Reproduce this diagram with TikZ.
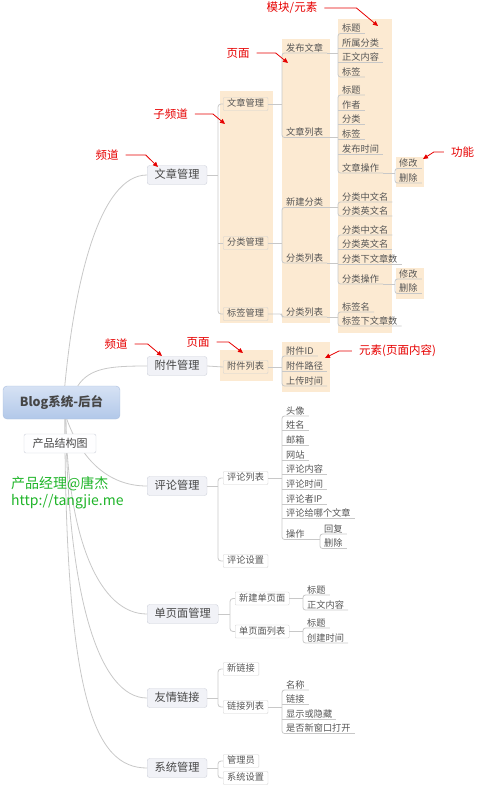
\documentclass[tikz,border=0pt]{standalone}
\usepackage{fontspec}
\setmainfont{Noto Sans CJK SC}
\usetikzlibrary{arrows.meta}
\definecolor{peach}{RGB}{252,234,210}
\definecolor{linegray}{RGB}{200,200,200}
\definecolor{chanfill}{RGB}{241,242,247}
\definecolor{chanline}{RGB}{205,208,218}
\definecolor{rootTop}{RGB}{214,226,244}
\definecolor{rootBot}{RGB}{178,200,233}
\definecolor{rootline}{RGB}{170,190,222}
\definecolor{txtgray}{RGB}{70,70,70}
\definecolor{itemgray}{RGB}{85,85,85}
\definecolor{markred}{RGB}{230,0,0}
\definecolor{signgreen}{RGB}{30,180,40}

\begin{document}
\begin{tikzpicture}[x=1pt,y=-1pt,
  rootbox/.style={draw=rootline,rounded corners=4pt,top color=rootTop,
                  bottom color=rootBot,minimum width=117pt,minimum height=33pt,
                  font=\fontsize{12.5}{14}\selectfont\bfseries,text=txtgray},
  tagbox/.style={draw=chanline,fill=white!96!chanfill,rounded corners=2pt,
                 minimum width=72pt,minimum height=19pt,
                 font=\fontsize{11}{13}\selectfont,text=txtgray},
  chan/.style={anchor=west,draw=chanline,fill=chanfill,rounded corners=2.5pt,
               inner xsep=7.5pt,inner ysep=4pt,text height=9pt,text depth=2pt,
               font=\fontsize{11.2}{13}\selectfont,text=txtgray},
  subch/.style={anchor=west,draw=black!18,rounded corners=1pt,
                inner xsep=4pt,inner ysep=2pt,text height=7.4pt,text depth=1.6pt,
                font=\fontsize{9.2}{11}\selectfont,text=itemgray},
  item/.style={anchor=south west,inner xsep=4pt,inner ysep=0.4pt,
               text height=7.4pt,text depth=1.2pt,
               font=\fontsize{9.2}{11}\selectfont,text=itemgray},
  conn/.style={draw=linegray,line width=0.8pt},
  redlbl/.style={inner xsep=7pt,inner ysep=1pt,text=markred,
                 font=\fontsize{11.5}{13}\selectfont},
  redarr/.style={draw=markred,line width=0.8pt,
                 -{Triangle[length=5pt,width=4.5pt]}}
]
\useasboundingbox (0,0) rectangle (485,793);

% peach backgrounds
\fill[peach] (220,91) rectangle (273,323);
\fill[peach] (282,39) rectangle (330,323);
\fill[peach] (338,19) rectangle (392,333);
\fill[peach] (396,157) rectangle (424,187);
\fill[peach] (396,268) rectangle (424,299);
\fill[peach] (220,350) rectangle (273,381);
\fill[peach] (282,342) rectangle (330,392);

% root and channels
\node[rootbox] (root) at (61.5,402.5) {Blog系统-后台};
\node[chan] (art) at (147,175) {文章管理};
\node[chan] (att) at (147,366) {附件管理};
\node[chan] (cmt) at (147,486) {评论管理};
\node[chan] (pg) at (147,614) {单页面管理};
\node[chan] (lnk) at (147,698) {友情链接};
\node[chan] (sys) at (147,768) {系统管理};

\draw[conn] ([xshift=62pt]root.north west) .. controls +(10,-106) and +(-47,0) .. (art.west);
\draw[conn] ([xshift=75pt]root.north west) .. controls +(12,-18) and +(-37,0) .. (att.west);
\draw[conn] ([xshift=64pt]root.south west) .. controls +(13,36) and +(-42,0) .. (cmt.west);
\draw[conn] ([xshift=63pt]root.south west) .. controls +(2,121) and +(-47,0) .. (pg.west);
\draw[conn] ([xshift=63pt]root.south west) .. controls +(2,181) and +(-47,0) .. (lnk.west);
\draw[conn] ([xshift=62pt]root.south west) .. controls +(1,281) and +(-52,0) .. (sys.west);

\node[tagbox] (struct) at (60,443.5) {产品结构图};
\node[anchor=west,align=left,inner sep=0pt,text=signgreen,
      font=\fontsize{14}{16.5}\selectfont] (sign) at (11,493)
  {产品经理@唐杰\\http://tangjie.me};

% 文章管理
\node[subch] (artm) at (223,104) {文章管理};
\node[subch] (catm) at (223,243) {分类管理};
\node[subch] (tagm) at (223,314) {标签管理};
\draw[conn] (art.east) -- ([xshift=-5pt]artm.west |- art.east);
\draw[conn,rounded corners=3pt] (artm.west) -- ++(-5,0) |- (tagm.west);
\draw[conn] (catm.west) -- ++(-5,0);

\node[item] (pub) at (282,53) {发布文章};
\node[item] (alist) at (282,137.5) {文章列表};
\node[item] (cnew) at (282,207.5) {新建分类};
\node[item] (clist) at (282,263) {分类列表};
\node[item] (tlist) at (282,317) {分类列表};
\draw[conn] (artm.east) -- (artm.east -| pub.south west);
\draw[conn,rounded corners=2.5pt] (pub.south east) -- (pub.south west) -- (alist.south west) -- (alist.south east);
\draw[conn] (catm.east) -- (catm.east -| cnew.south west);
\draw[conn,rounded corners=2.5pt] (cnew.south east) -- (cnew.south west) -- (clist.south west) -- (clist.south east);
\draw[conn,rounded corners=2pt] (tagm.east) -- (tagm.east -| tlist.south west) -- (tlist.south west) -- (tlist.south east);

\node[item] (pub1) at (338,33.5) {标题};
\node[item] (pub2) at (338,48) {所属分类};
\node[item] (pub3) at (338,62.5) {正文内容};
\node[item] (pub4) at (338,77) {标签};
\draw[conn] (pub.south east) -- (pub.south east -| pub1.south west);
\draw[conn,rounded corners=2.5pt] (pub1.south east) -- (pub1.south west) -- (pub4.south west) -- (pub4.south east);
\foreach \n in {pub2,pub3} \draw[conn] (\n.south west) -- (\n.south east);

\node[item] (al1) at (338,95) {标题};
\node[item] (al2) at (338,110) {作者};
\node[item] (al3) at (338,124.5) {分类};
\node[item] (al4) at (338,139) {标签};
\node[item] (al5) at (338,154) {发布时间};
\node[item] (al6) at (338,173) {文章操作};
\draw[conn] (alist.south east) -- (alist.south east -| al1.south west);
\draw[conn,rounded corners=2.5pt] (al1.south east) -- (al1.south west) -- (al6.south west) -- (al6.south east);
\foreach \n in {al2,al3,al4,al5} \draw[conn] (\n.south west) -- (\n.south east);

\node[item] (alop1) at (395,168.5) {修改};
\node[item] (alop2) at (395,183) {删除};
\draw[conn] (al6.south east) -- (al6.south east -| alop1.south west);
\draw[conn,rounded corners=2.5pt] (alop1.south east) -- (alop1.south west) -- (alop2.south west) -- (alop2.south east);

\node[item] (cn1) at (338,202) {分类中文名};
\node[item] (cn2) at (338,216) {分类英文名};
\draw[conn] (cnew.south east) -- (cnew.south east -| cn1.south west);
\draw[conn,rounded corners=2.5pt] (cn1.south east) -- (cn1.south west) -- (cn2.south west) -- (cn2.south east);

\node[item] (cl1) at (338,235) {分类中文名};
\node[item] (cl2) at (338,249.5) {分类英文名};
\node[item] (cl3) at (338,264) {分类下文章数};
\node[item] (cl4) at (338,284) {分类操作};
\draw[conn] (clist.south east) -- (clist.south east -| cl1.south west);
\draw[conn,rounded corners=2.5pt] (cl1.south east) -- (cl1.south west) -- (cl4.south west) -- (cl4.south east);
\foreach \n in {cl2,cl3} \draw[conn] (\n.south west) -- (\n.south east);

\node[item] (clop1) at (395,279) {修改};
\node[item] (clop2) at (395,293.5) {删除};
\draw[conn] (cl4.south east) -- (cl4.south east -| clop1.south west);
\draw[conn,rounded corners=2.5pt] (clop1.south east) -- (clop1.south west) -- (clop2.south west) -- (clop2.south east);

\node[item] (tl1) at (338,312) {标签名};
\node[item] (tl2) at (338,326) {标签下文章数};
\draw[conn] (tlist.south east) -- (tlist.south east -| tl1.south west);
\draw[conn,rounded corners=2.5pt] (tl1.south east) -- (tl1.south west) -- (tl2.south west) -- (tl2.south east);

% 附件管理
\node[subch] (attl) at (223,367) {附件列表};
\draw[conn] (att.east) -- (attl.west);
\node[item] (at1) at (282,356) {附件ID};
\node[item] (at2) at (282,371) {附件路径};
\node[item] (at3) at (282,386) {上传时间};
\draw[conn] (attl.east) -- (attl.east -| at1.south west);
\draw[conn,rounded corners=2.5pt] (at1.south east) -- (at1.south west) -- (at3.south west) -- (at3.south east);
\draw[conn] (at2.south west) -- (at2.south east);

% 评论管理
\node[subch] (cmtl) at (223,478) {评论列表};
\node[subch] (cmts) at (223,561) {评论设置};
\draw[conn] (cmt.east) -- ([xshift=-5pt]cmtl.west |- cmt.east);
\draw[conn,rounded corners=3pt] (cmtl.west) -- ++(-5,0) |- (cmts.west);

\node[item] (cm1) at (282,416) {头像};
\node[item] (cm2) at (282,430.5) {姓名};
\node[item] (cm3) at (282,445.5) {邮箱};
\node[item] (cm4) at (282,460) {网站};
\node[item] (cm5) at (282,474.5) {评论内容};
\node[item] (cm6) at (282,489.5) {评论时间};
\node[item] (cm7) at (282,504) {评论者IP};
\node[item] (cm8) at (282,518.5) {评论给哪个文章};
\node[item] (cm9) at (282,539.5) {操作};
\draw[conn] (cmtl.east) -- (cmtl.east -| cm1.south west);
\draw[conn,rounded corners=2.5pt] (cm1.south east) -- (cm1.south west) -- (cm9.south west) -- (cm9.south east);
\foreach \n in {cm2,cm3,cm4,cm5,cm6,cm7,cm8} \draw[conn] (\n.south west) -- (\n.south east);

\node[item] (cmop1) at (320,534) {回复};
\node[item] (cmop2) at (320,548.5) {删除};
\draw[conn] (cm9.south east) -- (cm9.south east -| cmop1.south west);
\draw[conn,rounded corners=2.5pt] (cmop1.south east) -- (cmop1.south west) -- (cmop2.south west) -- (cmop2.south east);

% 单页面管理
\node[subch] (pgnew) at (235,598.5) {新建单页面};
\node[subch] (pglist) at (235,631.5) {单页面列表};
\draw[conn] (pg.east) -- ([xshift=-5pt]pgnew.west |- pg.east);
\draw[conn,rounded corners=3pt] (pgnew.west) -- ++(-5,0) |- (pglist.west);

\node[item] (pn1) at (303,595) {标题};
\node[item] (pn2) at (303,610) {正文内容};
\node[item] (pl1) at (303,628) {标题};
\node[item] (pl2) at (303,643) {创建时间};
\draw[conn] (pgnew.east) -- (pgnew.east -| pn1.south west);
\draw[conn,rounded corners=2.5pt] (pn1.south east) -- (pn1.south west) -- (pn2.south west) -- (pn2.south east);
\draw[conn] (pglist.east) -- (pglist.east -| pl1.south west);
\draw[conn,rounded corners=2.5pt] (pl1.south east) -- (pl1.south west) -- (pl2.south west) -- (pl2.south east);

% 友情链接
\node[subch] (lnknew) at (223,669) {新链接};
\node[subch] (lnkl) at (223,707) {链接列表};
\draw[conn] (lnk.east) -- ([xshift=-5pt]lnknew.west |- lnk.east);
\draw[conn,rounded corners=3pt] (lnknew.west) -- ++(-5,0) |- (lnkl.west);

\node[item] (lk1) at (282,690) {名称};
\node[item] (lk2) at (282,704.5) {链接};
\node[item] (lk3) at (282,719) {显示或隐藏};
\node[item] (lk4) at (282,733.5) {是否新窗口打开};
\draw[conn] (lnkl.east) -- (lnkl.east -| lk1.south west);
\draw[conn,rounded corners=2.5pt] (lk1.south east) -- (lk1.south west) -- (lk4.south west) -- (lk4.south east);
\foreach \n in {lk2,lk3} \draw[conn] (\n.south west) -- (\n.south east);

% 系统管理
\node[subch] (sysadm) at (223,761) {管理员};
\node[subch] (sysset) at (223,778) {系统设置};
\draw[conn] (sys.east) -- ([xshift=-5pt]sysadm.west |- sys.east);
\draw[conn,rounded corners=3pt] (sysadm.west) -- ++(-5,0) |- (sysset.west);

% red notes
\node[redlbl] (lblmod) at (292,8) {模块/元素};
\node[redlbl] (lblpage) at (238,53) {页面};
\node[redlbl] (lblsub) at (170.5,114) {子频道};
\node[redlbl] (lblchan) at (107,155) {频道};
\node[redlbl] (lblfunc) at (462.5,152) {功能};
\node[redlbl] (lblchan2) at (116,344) {频道};
\node[redlbl] (lblpage2) at (198,342) {页面};
\node[redlbl] (lblelem) at (397.5,351) {元素(页面内容)};
\coordinate (tipmod) at (378,26);
\coordinate (tippage) at (288,63);
\coordinate (tipsub) at (225,124);
\coordinate (tipchan) at (158,167);
\coordinate (tipfunc) at (423,159);
\coordinate (tipchan2) at (162,356);
\coordinate (tippage2) at (243,353);
\coordinate (tipelem) at (325,358);
\draw[redarr] (lblmod.east) -- ++(32,0) -- (tipmod);
\draw[redarr] (lblpage.east) -- ++(19,0) -- (tippage);
\draw[redarr] (lblsub.east) -- ++(18,0) -- (tipsub);
\draw[redarr] (lblchan.east) -- ++(20,0) -- (tipchan);
\draw[redarr] (lblfunc.west) -- ++(-10,0) -- (tipfunc);
\draw[redarr] (lblchan2.east) -- ++(13,0) -- (tipchan2);
\draw[redarr] (lblpage2.east) -- ++(12,0) -- (tippage2);
\draw[redarr] (lblelem.west) -- ++(-13,0) -- (tipelem);
\end{tikzpicture}
\end{document}
